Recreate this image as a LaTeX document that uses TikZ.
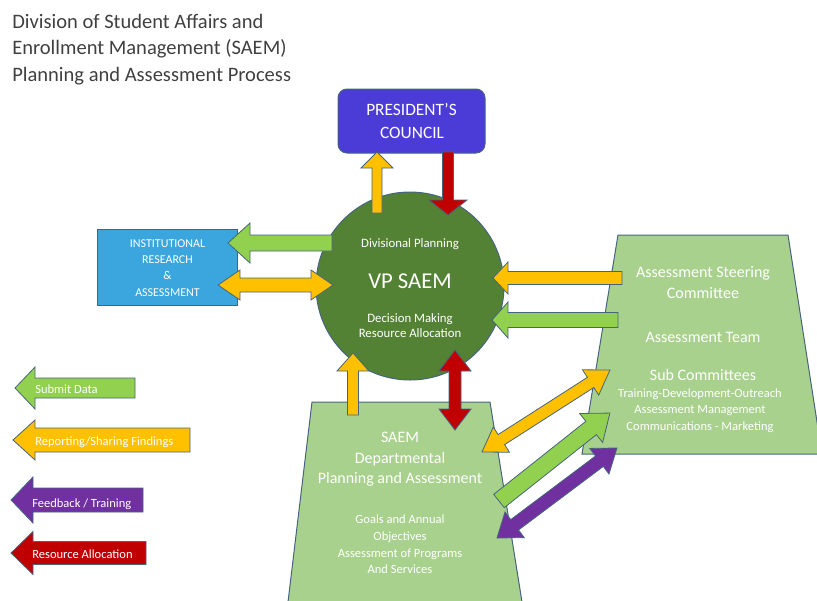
\documentclass[tikz,border=0pt]{standalone}
\usepackage{fontspec}
\setmainfont{Carlito}
\usetikzlibrary{calc}
\definecolor{council}{RGB}{75,60,215}
\definecolor{vpgreen}{RGB}{84,130,53}
\definecolor{irblue}{RGB}{58,166,221}
\definecolor{lightgr}{RGB}{169,209,142}
\definecolor{argreen}{RGB}{146,208,80}
\definecolor{arorange}{RGB}{255,192,0}
\definecolor{arred}{RGB}{192,0,0}
\definecolor{arpurple}{RGB}{112,48,160}
\definecolor{edge}{RGB}{70,100,125}
\definecolor{titlegray}{RGB}{64,64,64}
% single block arrow: style, tail, tip, shaft half, head half, head length (px)
\newcommand\blockarrow[6]{%
 \draw[#1] let \p1=($(#3)-(#2)$), \n1={atan2(\y1,\x1)}, \n2={veclen(\x1,\y1)} in
  [shift={(#2)},rotate=\n1]
  (0pt,{#4*0.75pt}) -- ({(\n2-#6*0.75)*1pt},{#4*0.75pt}) -- ({(\n2-#6*0.75)*1pt},{#5*0.75pt})
  -- ({\n2*1pt},0pt) -- ({(\n2-#6*0.75)*1pt},{-#5*0.75pt}) -- ({(\n2-#6*0.75)*1pt},{-#4*0.75pt})
  -- (0pt,{-#4*0.75pt}) -- cycle;}
% double block arrow
\newcommand\dblarrow[6]{%
 \draw[#1] let \p1=($(#3)-(#2)$), \n1={atan2(\y1,\x1)}, \n2={veclen(\x1,\y1)} in
  [shift={(#2)},rotate=\n1]
  (0pt,0pt) -- ({#6*0.75pt},{#5*0.75pt}) -- ({#6*0.75pt},{#4*0.75pt})
  -- ({(\n2-#6*0.75)*1pt},{#4*0.75pt}) -- ({(\n2-#6*0.75)*1pt},{#5*0.75pt})
  -- ({\n2*1pt},0pt) -- ({(\n2-#6*0.75)*1pt},{-#5*0.75pt}) -- ({(\n2-#6*0.75)*1pt},{-#4*0.75pt})
  -- ({#6*0.75pt},{-#4*0.75pt}) -- ({#6*0.75pt},{-#5*0.75pt}) -- cycle;}
\begin{document}
\begin{tikzpicture}[x=0.75pt,y=-0.75pt,
  txt/.style={inner sep=0pt, anchor=base, text=white},
  ttl/.style={inner sep=0pt, anchor=base west, text=titlegray, font=\fontsize{15.4}{19}\selectfont},
  shapeline/.style={draw=edge, line width=0.75pt},
  arr/.style={draw=edge, line width=0.6pt, line join=miter},
  big/.style={font=\fontsize{12}{14}\selectfont},
  small/.style={font=\fontsize{9.4}{11}\selectfont},
]
\useasboundingbox (0,0) rectangle (817,600);
% title
\node[ttl] (t1) at (12,28) {Division of Student Affairs and};
\node[ttl] (t2) at (12,54.5) {Enrollment Management (SAEM)};
\node[ttl] (t3) at (12,81) {Planning and Assessment Process};
% shapes
\draw[shapeline, fill=lightgr] (618,235) coordinate (rs1) -- (788,235) -- (822,454) -- (582,454) -- cycle;
\draw[shapeline, fill=lightgr] (312,402) coordinate (ds1) -- (490,402) -- (522,602) -- (288,602) -- cycle;
\node[shapeline, fill=council, rounded corners=6.75pt, minimum width=110.25pt, minimum height=48pt] (pc) at (411.5,121) {};
\node[shapeline, fill=irblue, minimum width=105pt, minimum height=57pt] (ir) at (167,267) {};
\node[shapeline, circle, fill=vpgreen, minimum size=141pt, inner sep=0pt] (vp) at (410,286) {};
% arrow end points
\coordinate (a1t) at (332,243); \coordinate (a1h) at (228,243);
\coordinate (a2t) at (218,285); \coordinate (a2h) at (333,285);
\coordinate (a3t) at (377,213); \coordinate (a3h) at (377,152);
\coordinate (a4t) at (448,152); \coordinate (a4h) at (448,215);
\coordinate (a5t) at (622,278); \coordinate (a5h) at (493,278);
\coordinate (a6t) at (618,320); \coordinate (a6h) at (492,320);
\coordinate (a7t) at (353,415); \coordinate (a7h) at (353,353);
\coordinate (a8t) at (455,350); \coordinate (a8h) at (455,430);
\coordinate (a9t) at (482,452); \coordinate (a9h) at (610,370);
\coordinate (a10t) at (499,501); \coordinate (a10h) at (610,413);
\coordinate (a11t) at (497,538); \coordinate (a11h) at (617,448);
\blockarrow{arr, fill=argreen}{a1t}{a1h}{8}{20}{22}
\dblarrow{arr, fill=arorange}{a2t}{a2h}{7}{15}{22}
\blockarrow{arr, fill=arorange}{a3t}{a3h}{5}{16}{16}
\blockarrow{arr, fill=arred}{a4t}{a4h}{5.5}{19}{15}
\blockarrow{arr, fill=arorange}{a5t}{a5h}{6.5}{16}{15}
\blockarrow{arr, fill=argreen}{a6t}{a6h}{7.5}{18}{16}
\blockarrow{arr, fill=arorange}{a7t}{a7h}{5.5}{16}{18}
\dblarrow{arr, fill=arred}{a8t}{a8h}{6}{16}{21}
\dblarrow{arr, fill=arorange}{a9t}{a9h}{6}{15}{23}
\blockarrow{arr, fill=argreen}{a10t}{a10h}{8.5}{18.5}{24}
\dblarrow{arr, fill=arpurple}{a11t}{a11h}{6.5}{16}{22}
% legend arrows
\coordinate (l1t) at (135,388); \coordinate (l1h) at (15,388);
\coordinate (l2t) at (190,440); \coordinate (l2h) at (13,440);
\coordinate (l3t) at (143,500); \coordinate (l3h) at (11,500);
\coordinate (l4t) at (146,553); \coordinate (l4h) at (11,553);
\blockarrow{arr, fill=argreen}{l1t}{l1h}{10}{21}{20}
\blockarrow{arr, fill=arorange}{l2t}{l2h}{12}{20}{22}
\blockarrow{arr, fill=arpurple}{l3t}{l3h}{12}{23}{22}
\blockarrow{arr, fill=arred}{l4t}{l4h}{11.5}{21.5}{22}
% texts
\node[txt, font=\fontsize{13}{15}\selectfont] (pc1) at (411.5,115) {PRESIDENT’S};
\node[txt, font=\fontsize{13}{15}\selectfont] (pc2) at (412,138) {COUNCIL};
\node[txt, font=\fontsize{9}{11}\selectfont] (ir1) at (167.5,247) {INSTITUTIONAL};
\node[txt, font=\fontsize{9}{11}\selectfont] (ir2) at (167.5,263) {RESEARCH};
\node[txt, font=\fontsize{9}{11}\selectfont] (ir3) at (167.5,279) {\&};
\node[txt, font=\fontsize{9}{11}\selectfont] (ir4) at (167.5,296) {ASSESSMENT};
\node[txt, font=\fontsize{9.6}{11}\selectfont] (vp1) at (410,247) {Divisional Planning};
\node[txt, font=\fontsize{17}{20}\selectfont] (vp2) at (410,288) {VP SAEM};
\node[txt, font=\fontsize{9.6}{11}\selectfont] (vp3) at (410,322) {Decision Making};
\node[txt, font=\fontsize{9.6}{11}\selectfont] (vp4) at (410,337) {Resource Allocation};
\node[txt, big] (r1) at (703,277) {Assessment Steering};
\node[txt, big] (r2) at (703,298) {Committee};
\node[txt, big] (r3) at (703,342) {Assessment Team};
\node[txt, big] (r4) at (703,380) {Sub Committees};
\node[txt, small] (r5) at (700,397) {Training-Development-Outreach};
\node[txt, small] (r6) at (700,413) {Assessment Management};
\node[txt, small] (r7) at (700,430) {Communications - Marketing};
\node[txt, big] (d1) at (400,442) {SAEM};
\node[txt, big] (d2) at (400,463) {Departmental};
\node[txt, big] (d3) at (400,483) {Planning and Assessment};
\node[txt, small] (d4) at (400,523) {Goals and Annual};
\node[txt, small] (d5) at (400,540) {Objectives};
\node[txt, small] (d6) at (400,557) {Assessment of Programs};
\node[txt, small] (d7) at (400,573) {And Services};
\node[txt, small, anchor=base west] (g1) at (35,393) {Submit Data};
\node[txt, small, anchor=base west] (g2) at (35,445) {Reporting/Sharing Findings};
\node[txt, small, anchor=base west] (g3) at (32,507) {Feedback / Training};
\node[txt, small, anchor=base west] (g4) at (32,558) {Resource Allocation};
\end{tikzpicture}
\end{document}
